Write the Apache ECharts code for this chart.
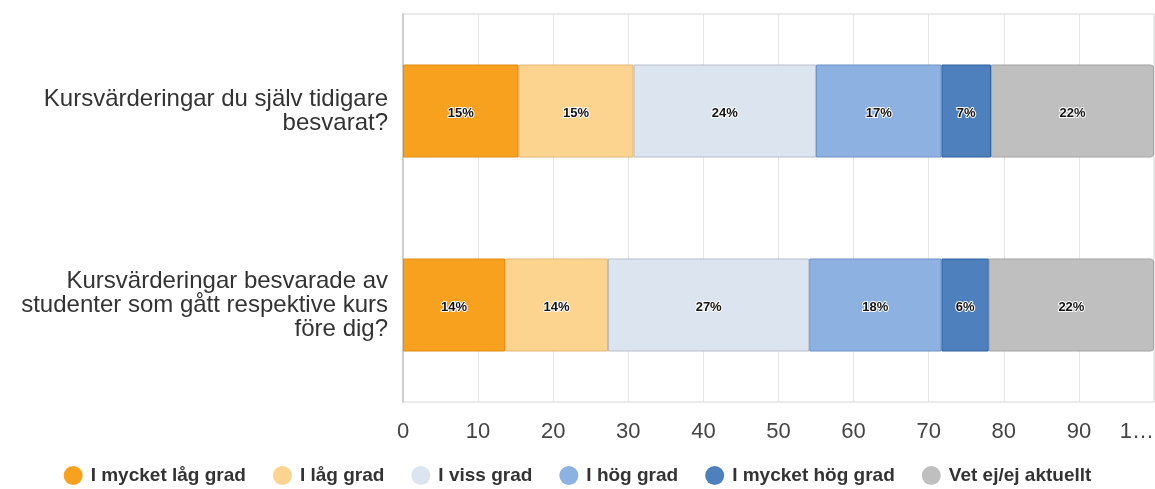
<!DOCTYPE html>
<html>
<head>
<meta charset="utf-8">
<script src="https://cdn.jsdelivr.net/npm/echarts@6/dist/echarts.min.js"></script>
<style>
html,body{margin:0;padding:0;background:#fff;}
#chart{width:1155px;height:489px;}
</style>
</head>
<body>
<div id="chart"></div>
<script>
var categories = [
  "Kursvärderingar du själv tidigare besvarat?",
  "Kursvärderingar besvarade av studenter som gått respektive kurs före dig?"
];
var seriesNames = ["I mycket låg grad", "I låg grad", "I viss grad", "I hög grad", "I mycket hög grad", "Vet ej/ej aktuellt"];
var veryLow  = [15.4, 13.6];
var low      = [15.3, 13.7];
var some     = [24.3, 26.8];
var high     = [16.7, 17.6];
var veryHigh = [6.6, 6.3];
var unknown  = [21.7, 22.0];
var tickLabels = ["0", "10", "20", "30", "40", "50", "60", "70", "80", "90", "1…"];

var seriesData = [veryLow, low, some, high, veryHigh, unknown];
var colors  = ["#F8A11F", "#FCD48F", "#DCE4F0", "#8DB1E1", "#4E80BD", "#BFBFBF"];
var borders = ["#DE8A14", "#E3B678", "#B4BDCA", "#6D92C4", "#2F609F", "#A3A3A3"];

var FONT = 'Liberation Sans, Arial, sans-serif';
var Y_FONT_SIZE = 24;
var Y_MAX_W = 385;
var measureCtx = document.createElement('canvas').getContext('2d');
function wrapLabel(text) {
  measureCtx.font = Y_FONT_SIZE + 'px ' + FONT;
  var words = text.split(' ');
  var lines = [];
  var cur = '';
  words.forEach(function (w) {
    var test = cur ? cur + ' ' + w : w;
    if (cur && measureCtx.measureText(test).width > Y_MAX_W) {
      lines.push(cur);
      cur = w;
    } else {
      cur = test;
    }
  });
  if (cur) lines.push(cur);
  return lines.join('\n');
}

var chart = echarts.init(document.getElementById('chart'), null, {renderer: 'canvas'});
var series = seriesNames.map(function (name, i) {
  return {
    name: name,
    type: 'bar',
    stack: 'total',
    barWidth: 93,
    data: seriesData[i],
    itemStyle: {
      color: colors[i],
      borderColor: borders[i],
      borderWidth: 1,
      borderRadius: i === seriesNames.length - 1 ? [0, 3, 3, 0] : 0
    },
    label: {
      show: true,
      position: 'inside',
      offset: [0, 2],
      formatter: function (p) { return Math.round(p.value) + '%'; },
      fontFamily: FONT,
      fontWeight: 'bold',
      fontSize: 13,
      color: '#111',
      textBorderColor: '#fff',
      textBorderWidth: 2
    },
    emphasis: {disabled: true}
  };
});

chart.setOption({
  animation: false,
  backgroundColor: '#fff',
  color: colors,
  grid: {
    left: 403, right: 1, top: 14, bottom: 87,
    outerBoundsMode: 'none',
    containLabel: false,
    show: true, borderColor: '#d6d6d6', borderWidth: 1
  },
  legend: {
    top: 466,
    left: 'center',
    padding: [0, 5],
    icon: 'circle',
    itemWidth: 19,
    itemHeight: 19,
    itemGap: 27,
    itemStyle: {borderWidth: 0},
    data: seriesNames,
    textStyle: {
      fontFamily: FONT,
      fontWeight: 'bold',
      fontSize: 19,
      color: '#333',
      padding: [0, 0, 0, 3]
    }
  },
  xAxis: {
    type: 'value',
    min: 0, max: 100, interval: 10,
    axisLine: {show: false},
    axisTick: {show: false},
    splitLine: {show: true, lineStyle: {color: '#e6e6e6', width: 1}},
    axisLabel: {
      margin: 19,
      alignMaxLabel: 'right',
      fontFamily: FONT,
      fontSize: 22,
      color: '#444',
      formatter: function (v) { return tickLabels[Math.round(v / 10)]; }
    }
  },
  yAxis: {
    type: 'category',
    inverse: true,
    data: categories,
    axisLine: {show: true, lineStyle: {color: '#cfcfcf', width: 2}},
    axisTick: {show: false},
    axisLabel: {
      margin: 15,
      align: 'right',
      lineHeight: 24,
      fontFamily: FONT,
      fontSize: Y_FONT_SIZE,
      color: '#333',
      formatter: wrapLabel
    }
  },
  series: series
});
</script>
</body>
</html>
